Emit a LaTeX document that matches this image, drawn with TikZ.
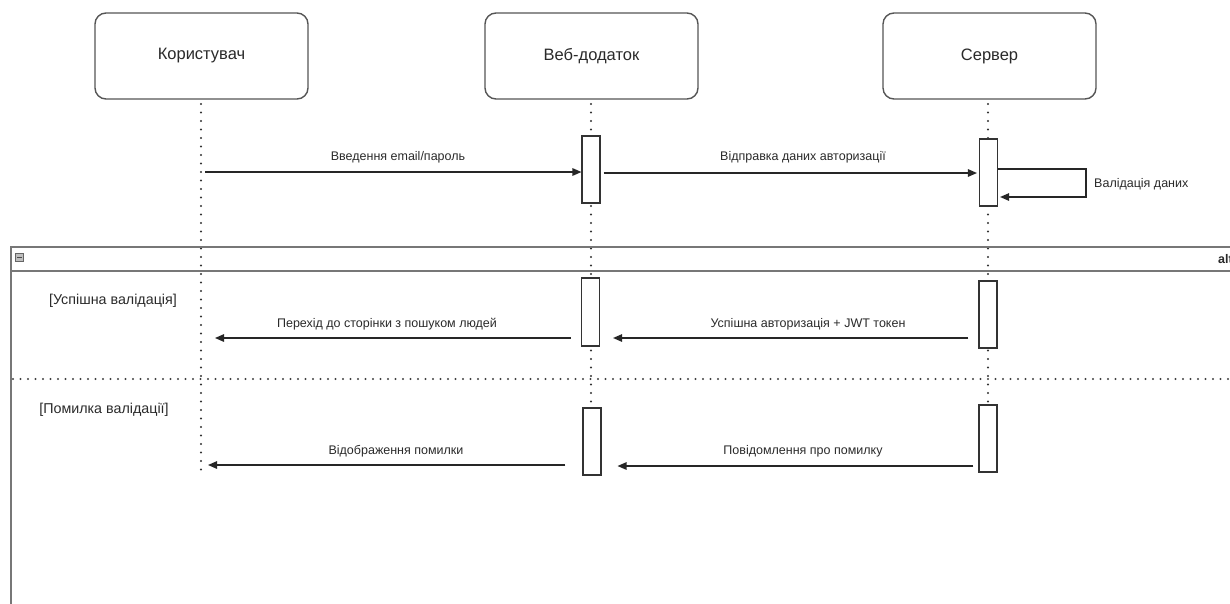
\documentclass[tikz,border=0pt]{standalone}
\usepackage{fontspec}
\setmainfont{Liberation Sans}
\usetikzlibrary{arrows.meta}
\definecolor{txt}{HTML}{2A2A2A}
\definecolor{edge}{HTML}{555555}
\definecolor{framec}{HTML}{777777}
\tikzset{
  actor/.style={draw=edge, line width=1.4pt, rounded corners=11pt, fill=white,
    minimum width=213pt, minimum height=86pt, inner sep=0pt,
    font=\fontsize{16.5}{19}\selectfont, text=txt},
  lifeline/.style={line width=2.3pt, line cap=round, dash pattern=on 0pt off 8.5pt, draw=black!80},
  activation/.style={draw=black!80, line width=1.1pt, fill=white, minimum width=18pt, inner sep=0pt},
  msg/.style={draw=black!85, line width=1.3pt, -{Triangle[length=9pt,width=7.5pt]}},
  lbl/.style={font=\fontsize{12.5}{14}\selectfont, text=txt, inner sep=0pt},
  guard/.style={font=\fontsize{14.3}{16}\selectfont, text=txt, inner sep=0pt},
  sepline/.style={line width=2.2pt, line cap=round, dash pattern=on 0pt off 7.5pt, draw=black!75},
}
\begin{document}
\begin{tikzpicture}[x=1pt, y=-1pt]
\useasboundingbox (0,0) rectangle (1230,603);
\clip (0,0) rectangle (1230,603);

% participants
\node[actor] (user) at (201.5,56) {Користувач};
\node[actor] (web)  at (591.5,56) {Веб-додаток};
\node[actor] (srv)  at (989.5,56) {Сервер};

% lifelines
\coordinate (uEnd) at (201,475);
\coordinate (wEnd) at (591,475);
\coordinate (sEnd) at (988,472);
\draw[lifeline] (201,104) -- (uEnd);
\draw[lifeline] (591,104) -- (wEnd);
\draw[lifeline] (988,104) -- (sEnd);

% combined fragment (alt)
\draw[framec, line width=1.8pt] (11,610) -- (11,247) -- (1240,247);
\draw[framec, line width=1.8pt] (11,271) -- (1240,271);
\node[draw=black!60, fill=black!25, minimum size=8pt, inner sep=0pt] (fold) at (19.5,257) {};
\draw[black!70, line width=0.8pt] ([xshift=-2.5pt]fold.center) -- ([xshift=2.5pt]fold.center);
\node[anchor=west, inner sep=0pt, font=\bfseries\fontsize{12.5}{14}\selectfont, text=txt] (altlbl) at (1218,259) {alt};
\draw[sepline] (13,379) -- (1240,379);
\node[guard] (g1) at (113,301) {[Успішна валідація]};
\node[guard] (g2) at (104,410) {[Помилка валідації]};

% activations
\node[activation, minimum height=67pt] (wa1) at (591,169.5) {};
\node[activation, minimum height=67pt] (sa1) at (988.5,172.5) {};
\node[activation, minimum height=68pt] (wa2) at (590.5,312) {};
\node[activation, minimum height=67pt] (sa2) at (988,314.5) {};
\node[activation, minimum height=67pt] (wa3) at (592,441.5) {};
\node[activation, minimum height=67pt] (sa3) at (988,438.5) {};

% login request
\coordinate (m1s) at (205,172);
\draw[msg] (m1s) -- (m1s -| wa1.west);
\node[lbl] (l1) at (398,157) {Введення email/пароль};

% forward to server
\draw[msg] ([xshift=3pt]wa1.east |- 0,173) -- ([xshift=-2pt]sa1.west |- 0,173);
\node[lbl] (l2) at (803,157) {Відправка даних авторизації};

% self call
\coordinate (selfA) at (1086,169);
\coordinate (selfB) at (1086,197);
\draw[msg] (sa1.east |- selfA) -- (selfA) -- (selfB) -- ([xshift=2pt]sa1.east |- selfB);
\node[lbl, anchor=west] (l3) at (1094,184) {Валідація даних};

% success branch
\draw[msg] ([xshift=-10pt]sa2.west |- 0,338) -- ([xshift=13pt]wa2.east |- 0,338);
\node[lbl] (l4) at (808,324) {Успішна авторизація + JWT токен};
\draw[msg] ([xshift=-10pt]wa2.west |- 0,338) -- ([xshift=14pt]uEnd |- 0,338);
\node[lbl] (l5) at (387,324) {Перехід до сторінки з пошуком людей};

% error branch
\draw[msg] ([xshift=-5pt]sa3.west |- 0,466) -- ([xshift=16pt]wa3.east |- 0,466);
\node[lbl] (l6) at (803,451) {Повідомлення про помилку};
\draw[msg] ([xshift=-17pt]wa3.west |- 0,465) -- ([xshift=7pt]uEnd |- 0,465);
\node[lbl] (l7) at (396,451) {Відображення помилки};
\end{tikzpicture}
\end{document}
